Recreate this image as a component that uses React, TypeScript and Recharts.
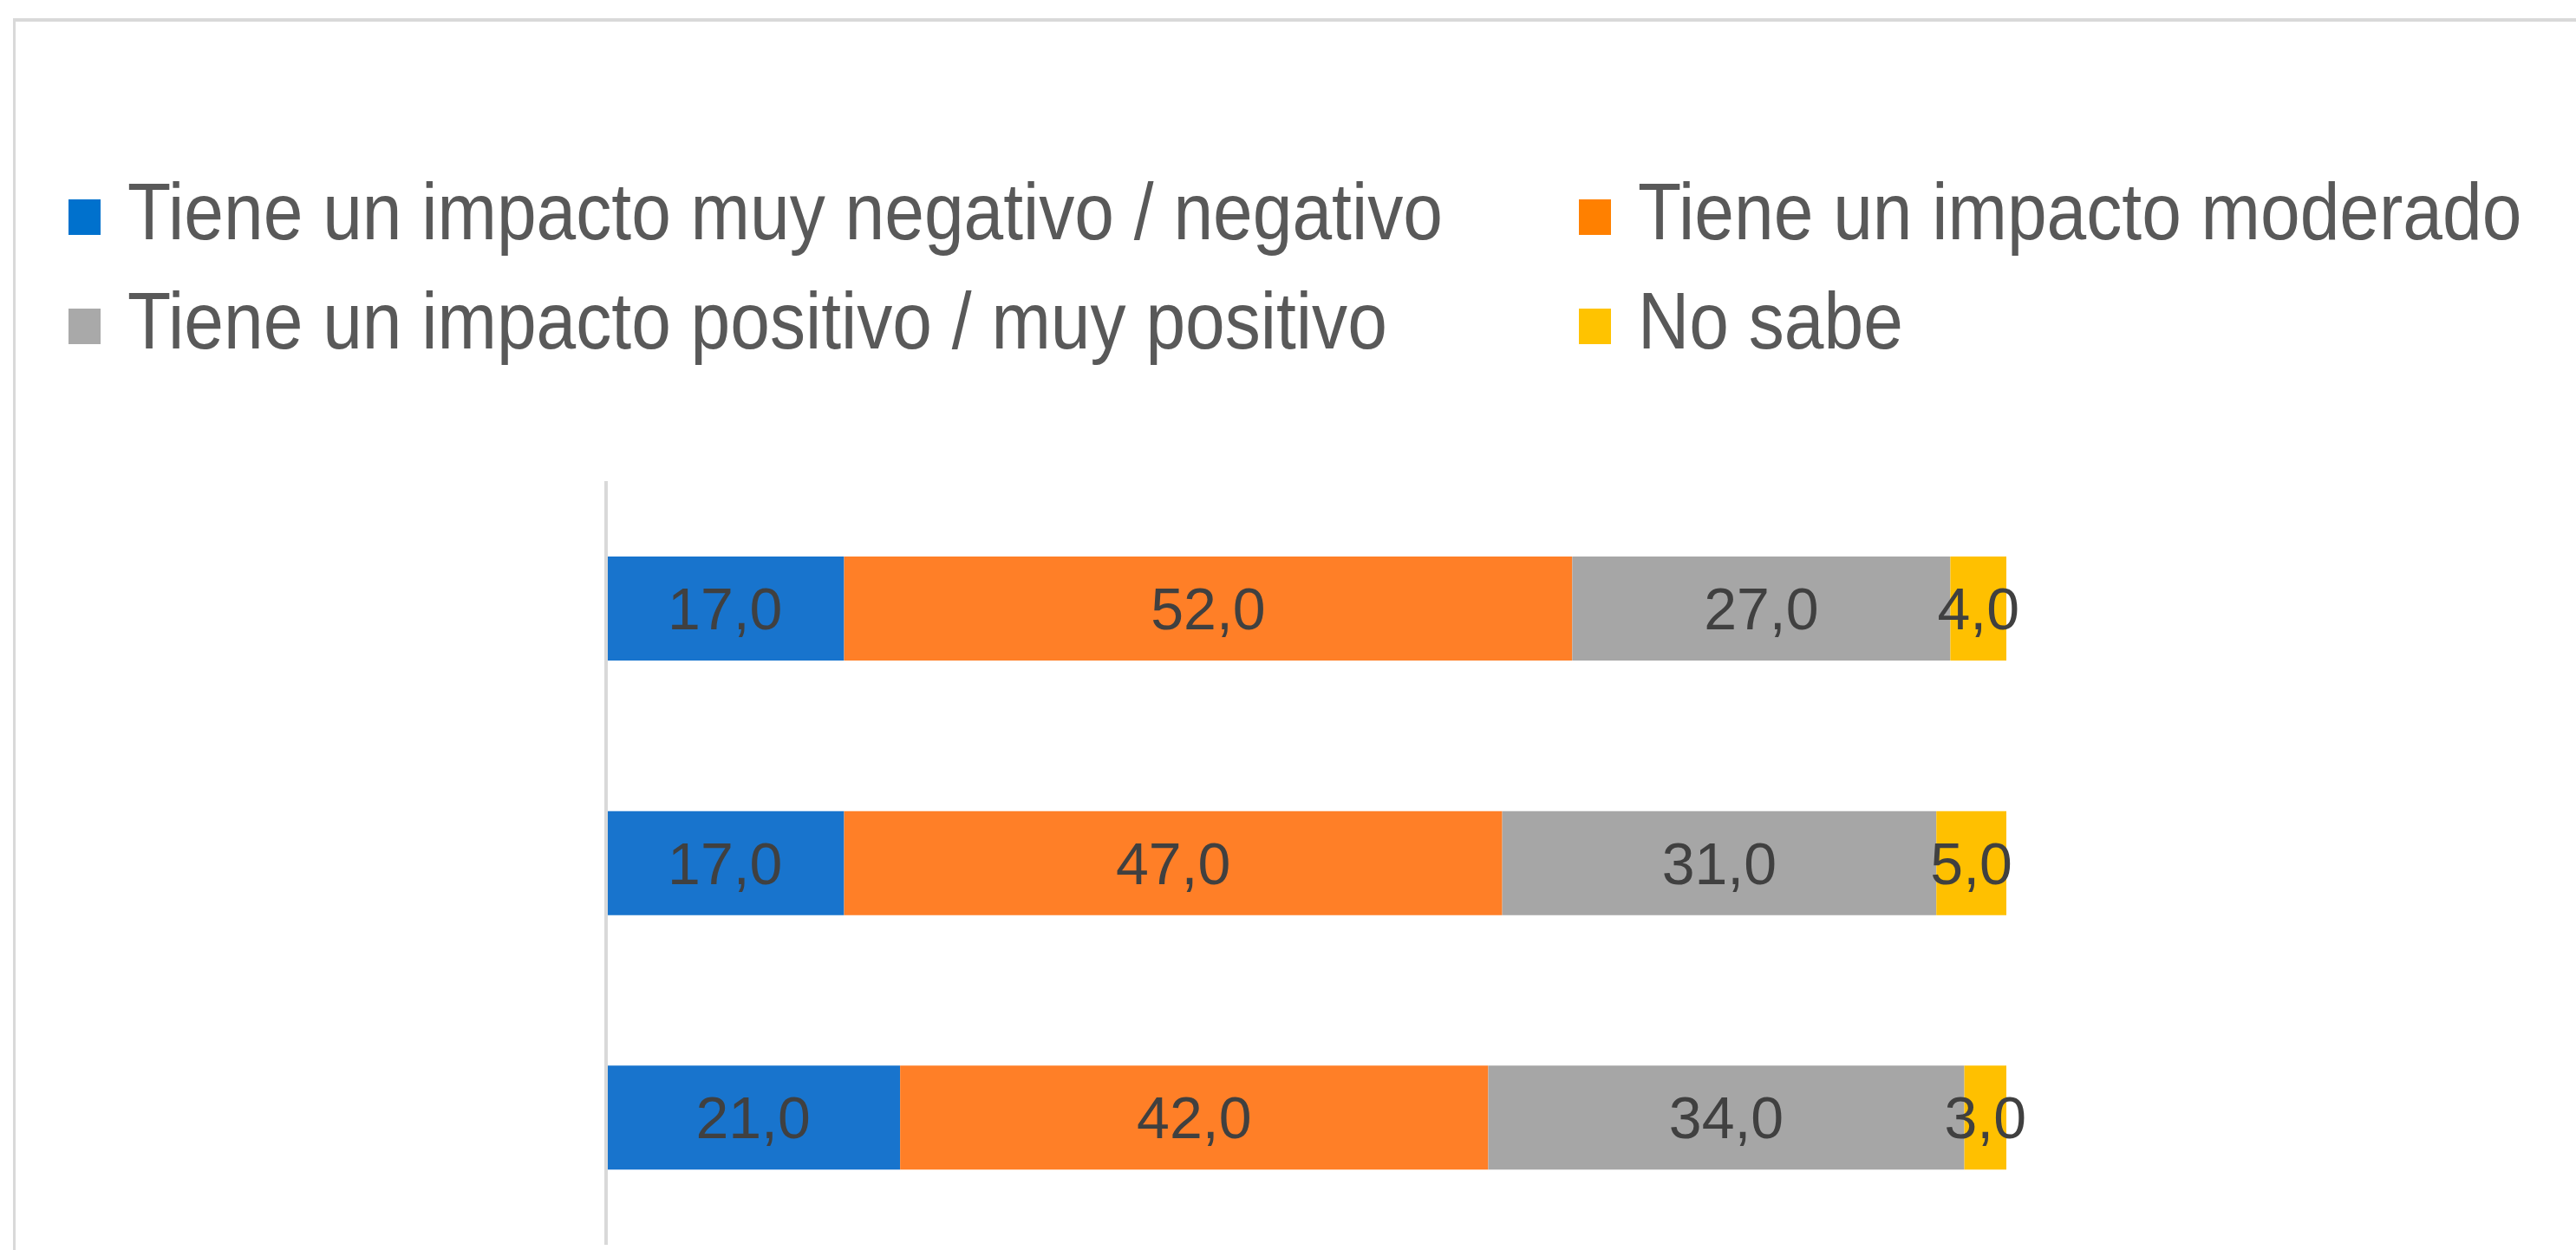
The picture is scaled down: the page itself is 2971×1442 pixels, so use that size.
import React from 'react';
import { BarChart, Bar, XAxis, YAxis, Legend, LabelList } from 'recharts';

// rows of the survey, top to bottom (no labels shown on the axis)
const categories = ['Fila 1', 'Fila 2', 'Fila 3'];

const seriesNames = [
  'Tiene un impacto muy negativo / negativo',
  'Tiene un impacto moderado',
  'Tiene un impacto positivo / muy positivo',
  'No sabe',
];
const negativo = [17, 17, 21];
const moderado = [52, 47, 42];
const positivo = [27, 31, 34];
const noSabe = [4, 5, 3];

const seriesKeys = ['negativo', 'moderado', 'positivo', 'noSabe'];
const barColors = ['#1874CD', '#FF7F27', '#A6A6A6', '#FFC000'];
const legendColors = ['#0071CD', '#FF8000', '#A9A9A9', '#FFC300'];

const data = categories.map((name, i) => ({
  name,
  negativo: negativo[i],
  moderado: moderado[i],
  positivo: positivo[i],
  noSabe: noSabe[i],
}));

const W = 2971;
const H = 1442;
const FONT = '"Liberation Sans", Arial, sans-serif';

const fmt = (v: any) => Number(v).toFixed(1).replace('.', ',');

const LegendBox = () => (
  <svg width={W} height={430} style={{ display: 'block' }}>
    {seriesNames.map((name, i) => {
      const col = i % 2;
      const row = Math.floor(i / 2);
      const x = col === 0 ? 79 : 1821;
      const y = row === 0 ? 230 : 356;
      return (
        <g key={name}>
          <rect x={x} y={y} width={37} height={41} fill={legendColors[i]} />
          <text
            transform={`translate(${x + 68} ${y + 46}) scale(0.883 1)`}
            fontSize={93}
            fill="#595959"
            fontFamily={FONT}
          >
            {name}
          </text>
        </g>
      );
    })}
  </svg>
);

export default function App() {
  return (
    <div style={{ position: 'relative', width: W, height: H, background: '#fff', overflow: 'hidden' }}>
      <style>{'body{margin:0;background:#fff}'}</style>
      <div
        style={{
          position: 'absolute',
          left: 15,
          top: 21,
          width: W - 15,
          height: H - 21,
          borderTop: '4px solid #D9D9D9',
          borderLeft: '3px solid #D9D9D9',
          boxSizing: 'border-box',
        }}
      />
      <div style={{ position: 'absolute', left: 0, top: 0 }}>
        <BarChart
          width={W}
          height={H}
          data={data}
          layout="vertical"
          margin={{ top: 555, right: 657, bottom: 6, left: 698 }}
          barSize={120}
        >
          <XAxis type="number" domain={[0, 100]} hide />
          <Legend
            layout="horizontal"
            verticalAlign="middle"
            align="center"
            wrapperStyle={{ top: 0, left: 0, width: W }}
            content={() => <LegendBox />}
          />
          {seriesKeys.map((key, i) => (
            <Bar
              key={key}
              dataKey={key}
              name={seriesNames[i]}
              stackId="a"
              fill={barColors[i]}
              isAnimationActive={false}
            >
              <LabelList
                dataKey={key}
                position="center"
                formatter={fmt}
                fill="#404040"
                fontSize={68}
                fontFamily={FONT}
              />
            </Bar>
          ))}
          <YAxis
            type="category"
            dataKey="name"
            width={1}
            tick={false}
            tickLine={false}
            axisLine={{ stroke: '#D9D9D9', strokeWidth: 4 }}
          />
        </BarChart>
      </div>
    </div>
  );
}
